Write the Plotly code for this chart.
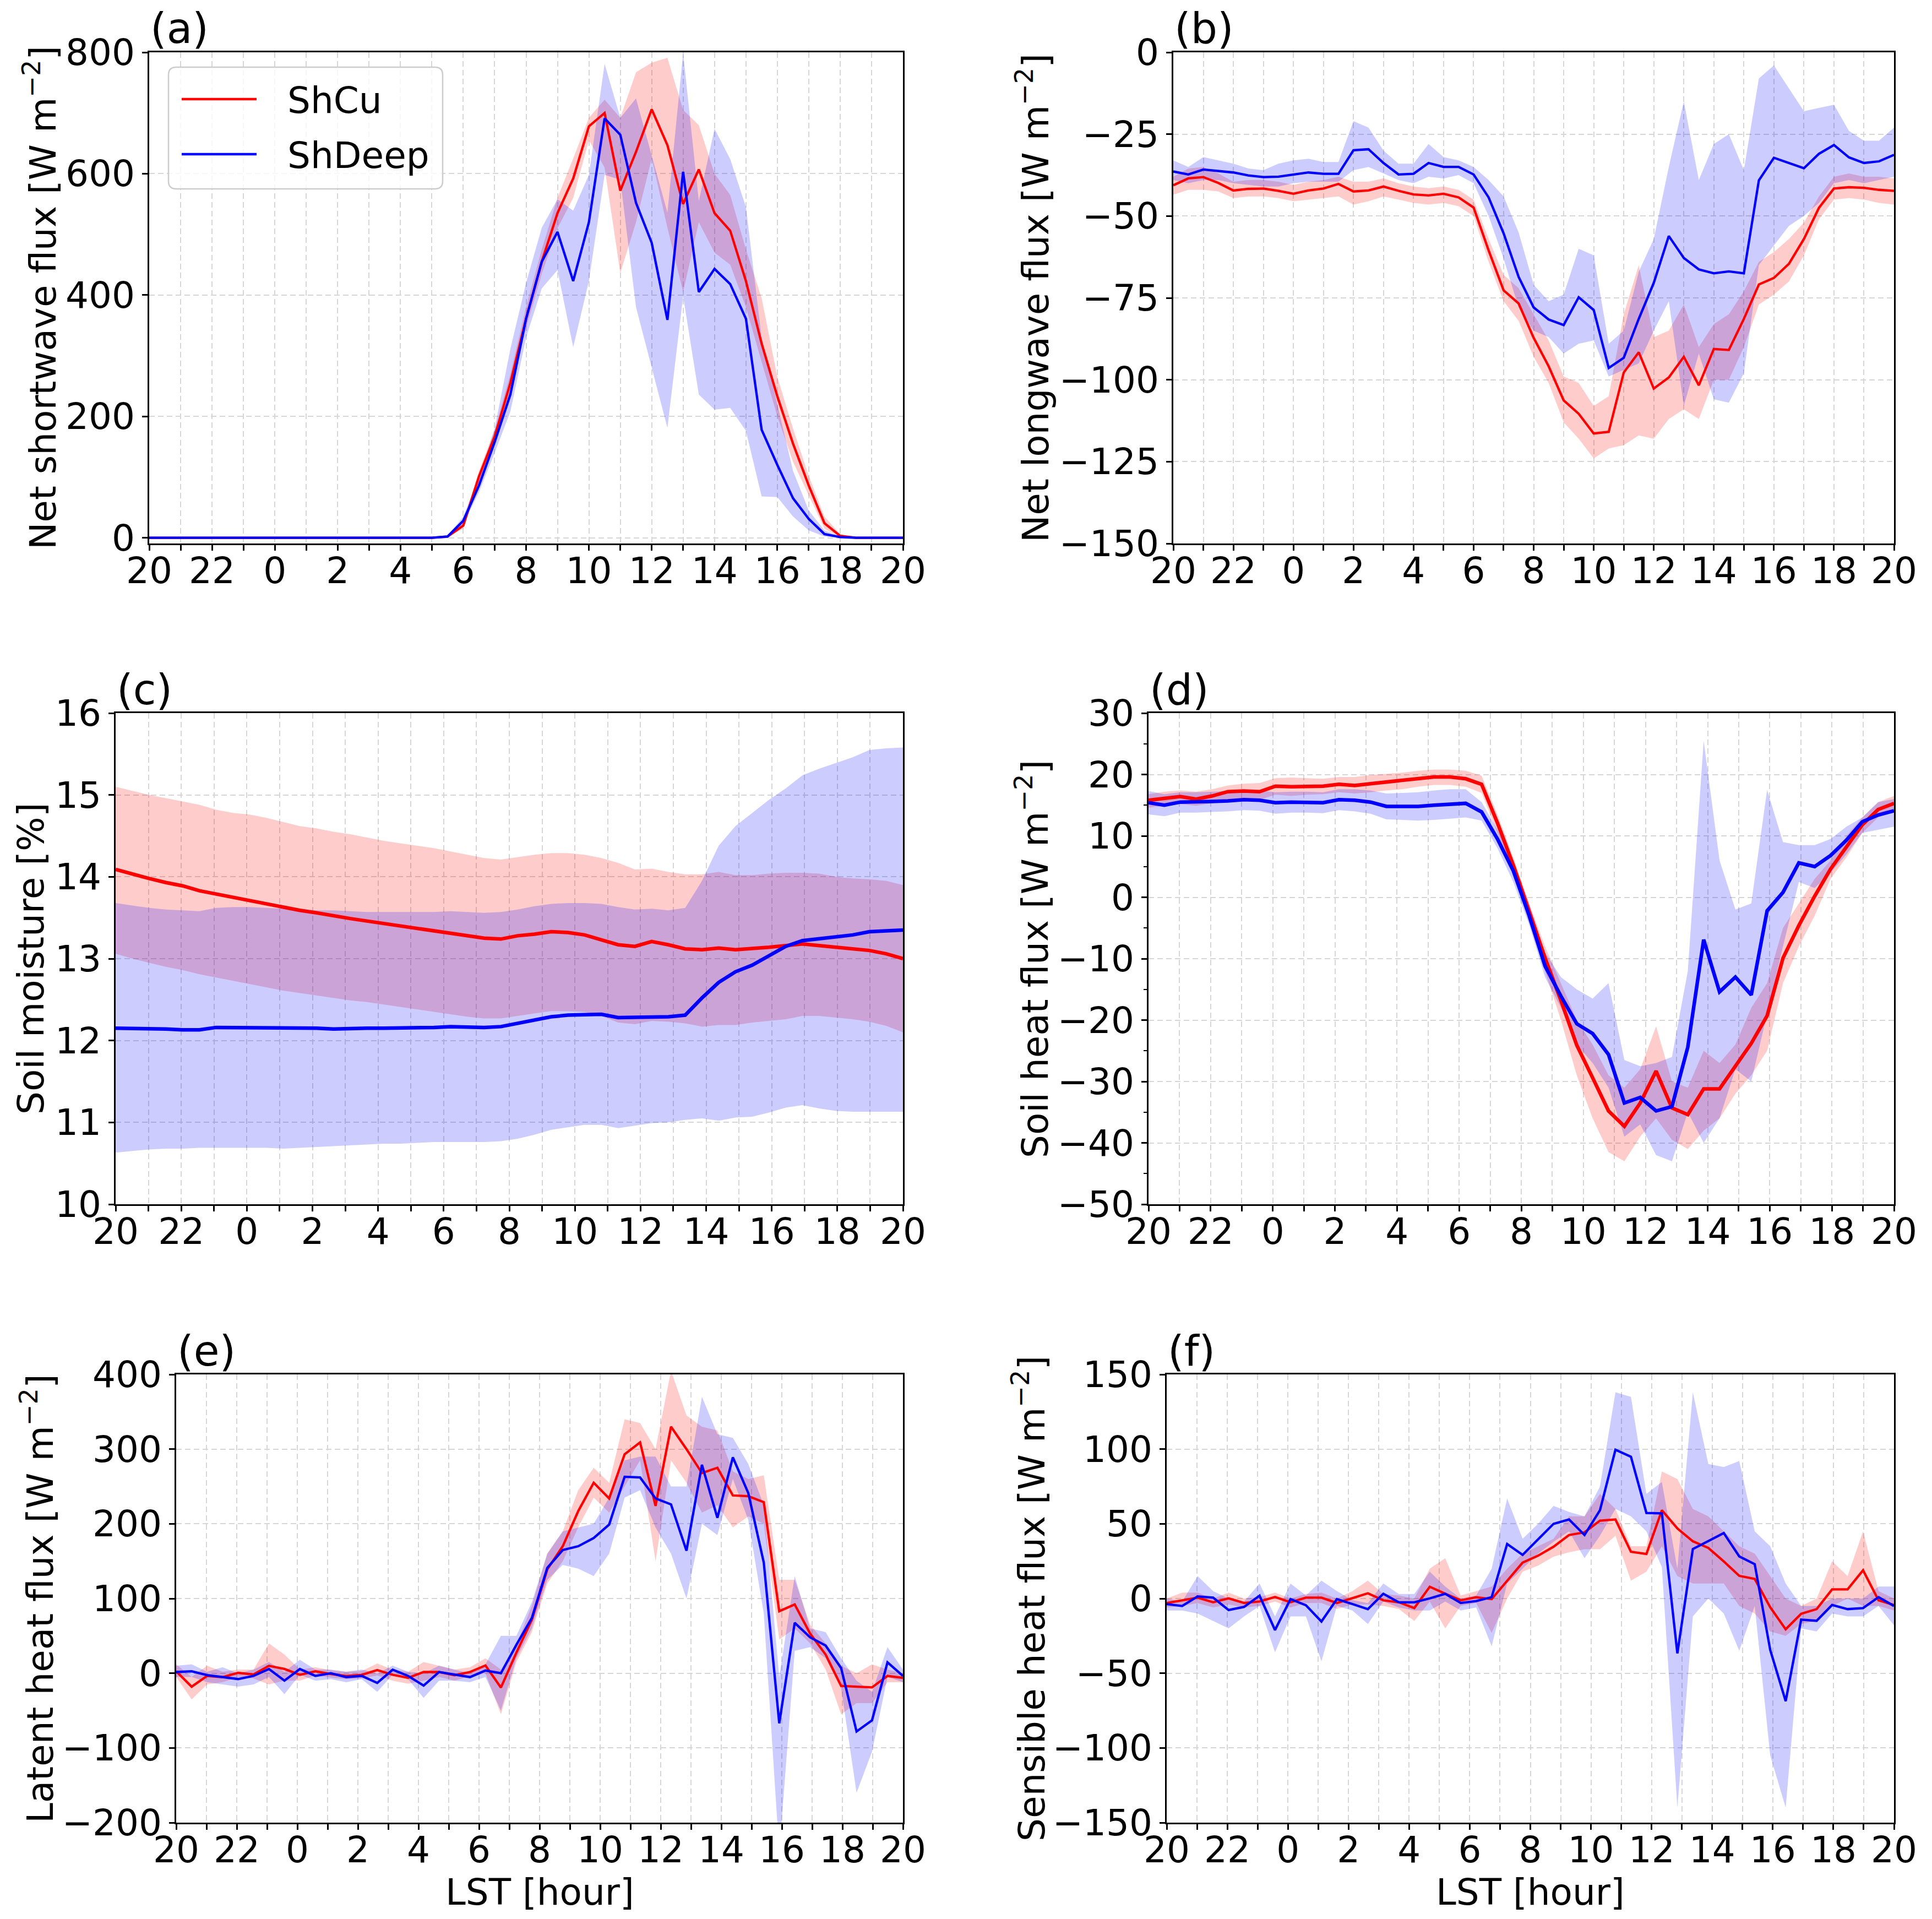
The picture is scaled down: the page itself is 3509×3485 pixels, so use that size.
import plotly.graph_objects as go
from plotly.subplots import make_subplots

W, H = 3509, 3485

# x positions, hours after 20 LST
hours_ab = [i * 0.5 for i in range(49)]
hours_cf = [i * 24 / 47 for i in range(48)]
tick_hours = list(range(0, 25, 2))
tick_text = [str((20 + h) % 24) for h in tick_hours]

# (a) net shortwave flux
sw_cu = [0] * 19 + [2, 20, 101, 167, 255, 361, 455, 535, 592, 678, 700, 572, 636, 706, 647, 550,
                    607, 535, 506, 423, 320, 233, 155, 86, 24, 3, 0, 0, 0, 0]
sw_cu_hi = [0] * 19 + [3, 25, 110, 178, 270, 380, 475, 560, 625, 692, 722, 692, 767, 783, 791, 705,
                       680, 600, 565, 475, 395, 265, 180, 102, 35, 6, 0, 0, 0, 0]
sw_cu_lo = [0] * 19 + [1, 15, 90, 155, 240, 345, 435, 510, 560, 655, 610, 436, 520, 625, 511, 405,
                       520, 470, 450, 380, 290, 200, 125, 70, 15, 1, 0, 0, 0, 0]
sw_dp = [0] * 19 + [2, 28, 86, 158, 236, 361, 455, 504, 423, 520, 691, 664, 552, 486, 359, 603,
                    405, 443, 418, 361, 178, 120, 65, 31, 6, 1, 0, 0, 0, 0]
sw_dp_hi = [0] * 19 + [3, 35, 100, 180, 311, 420, 511, 558, 539, 598, 781, 692, 724, 630, 536, 799,
                       555, 674, 624, 545, 330, 220, 110, 45, 12, 2, 0, 0, 0, 0]
sw_dp_lo = [0] * 19 + [1, 22, 75, 140, 208, 330, 411, 441, 314, 423, 598, 590, 380, 280, 181, 398,
                       236, 211, 214, 176, 68, 67, 35, 12, 2, 0, 0, 0, 0, 0]

# (b) net longwave flux
lw_cu = [-40.6, -38.5, -38.1, -39.9, -42.2, -41.7, -41.6, -42.3, -43.2, -42.2, -41.6, -40.2, -42.5,
         -42.2, -41.0, -42.3, -43.4, -43.7, -43.2, -44.3, -47.4, -60.5, -72.7, -76.7, -87.2, -95.9,
         -106.3, -110.4, -116.4, -115.9, -97.8, -91.6, -102.7, -99.3, -93.0, -101.7, -90.6, -90.9,
         -81.4, -70.9, -68.9, -64.6, -57.0, -47.5, -41.6, -41.2, -41.4, -42.0, -42.3]
lw_cu_hi = [-38, -35.5, -35, -37, -39.5, -39, -39, -39.5, -40.5, -39.5, -39, -38, -39.5, -39.5, -38.5,
            -40, -41, -41.5, -41, -42, -45, -57, -68, -72, -80, -88, -99, -101, -108, -105, -80, -65,
            -87, -85, -77, -90, -83, -80, -73, -64, -61, -57, -52, -44, -38, -37, -38, -38, -38.5]
lw_cu_lo = [-43.5, -42, -42, -42.5, -44.5, -44, -44, -44.5, -45.5, -45, -44.5, -44, -46.5, -45.5, -44,
            -45, -46, -46.5, -46, -47, -50, -64, -76, -82, -93, -101, -113, -118, -124, -121, -120,
            -117, -118, -112, -109, -112, -100, -100, -90, -77, -74, -70, -62, -51, -45, -44.5, -45,
            -46, -46.5]
lw_dp = [-36.4, -37.3, -35.8, -36.2, -36.7, -37.6, -38.1, -38.0, -37.3, -36.7, -37.1, -37.1, -29.9,
         -29.6, -33.8, -37.3, -37.1, -33.8, -35.0, -35.0, -37.3, -44.3, -55.3, -68.6, -77.9, -81.6,
         -83.3, -74.8, -78.7, -96.4, -93.3, -81.4, -70.4, -56.1, -62.8, -66.3, -67.5, -66.9, -67.5,
         -39.1, -32.2, -33.8, -35.4, -31.0, -28.3, -32.1, -33.8, -33.3, -31.3]
lw_dp_hi = [-33, -35, -32, -33, -34, -35.5, -36, -34, -33, -32.5, -33.5, -33.5, -21, -23, -30, -34, -34,
            -28, -32, -33, -35, -39, -44, -55, -71, -76, -74, -60, -62, -89, -85, -67, -57, -35, -15,
            -39, -28, -25, -36, -8, -4, -11, -18, -17, -16, -24, -27, -27, -23]
lw_dp_lo = [-39, -40, -39, -39, -40, -40.5, -41, -41, -40, -39.5, -39.5, -39.5, -36, -35, -37, -39, -40,
            -38, -38.5, -37.5, -40, -50, -63, -78, -85, -87, -92, -89, -88, -99, -97, -95, -85, -76,
            -108, -92, -106, -107, -98, -65, -59, -53, -50, -46, -40, -39, -40, -39, -38]

# (c) soil moisture
sm_cu = [14.09, 14.03, 13.98, 13.93, 13.89, 13.83, 13.79, 13.74, 13.71, 13.66, 13.62, 13.59, 13.56,
         13.52, 13.49, 13.46, 13.43, 13.40, 13.37, 13.34, 13.30, 13.28, 13.25, 13.24, 13.28, 13.30,
         13.33, 13.32, 13.29, 13.23, 13.17, 13.15, 13.21, 13.17, 13.12, 13.11, 13.13, 13.11, 13.12,
         13.14, 13.16, 13.18, 13.16, 13.14, 13.12, 13.10, 13.06, 13.00]
sm_cu_hi = [15.10, 15.05, 15.00, 14.96, 14.92, 14.88, 14.82, 14.78, 14.76, 14.72, 14.67, 14.62, 14.59,
            14.55, 14.52, 14.48, 14.44, 14.41, 14.38, 14.35, 14.31, 14.27, 14.23, 14.21, 14.24, 14.27,
            14.29, 14.29, 14.27, 14.23, 14.17, 14.09, 14.10, 14.06, 14.03, 14.03, 14.06, 14.02, 14.02,
            14.04, 14.05, 14.05, 14.04, 14.00, 13.98, 13.97, 13.95, 13.90]
sm_cu_lo = [13.06, 13.00, 12.95, 12.90, 12.86, 12.81, 12.77, 12.73, 12.69, 12.65, 12.61, 12.58, 12.55,
            12.52, 12.49, 12.47, 12.44, 12.41, 12.38, 12.35, 12.32, 12.29, 12.27, 12.27, 12.30, 12.33,
            12.36, 12.36, 12.35, 12.30, 12.22, 12.20, 12.24, 12.23, 12.21, 12.17, 12.19, 12.19, 12.22,
            12.24, 12.26, 12.30, 12.30, 12.28, 12.26, 12.23, 12.18, 12.10]
sm_dp = [12.15, 12.15, 12.14, 12.14, 12.13, 12.13, 12.16, 12.16, 12.16, 12.16, 12.15, 12.15, 12.15,
         12.14, 12.15, 12.15, 12.15, 12.15, 12.16, 12.16, 12.17, 12.16, 12.16, 12.17, 12.21, 12.25,
         12.29, 12.31, 12.32, 12.32, 12.28, 12.28, 12.29, 12.29, 12.31, 12.52, 12.71, 12.84, 12.92,
         13.03, 13.15, 13.22, 13.24, 13.26, 13.29, 13.33, 13.34, 13.35]
sm_dp_hi = [13.68, 13.65, 13.62, 13.60, 13.59, 13.58, 13.62, 13.63, 13.63, 13.62, 13.61, 13.60, 13.59,
            13.59, 13.58, 13.57, 13.57, 13.57, 13.57, 13.57, 13.58, 13.57, 13.56, 13.57, 13.60, 13.64,
            13.67, 13.68, 13.68, 13.67, 13.63, 13.60, 13.61, 13.59, 13.62, 13.95, 14.38, 14.62, 14.78,
            14.94, 15.08, 15.24, 15.32, 15.39, 15.46, 15.55, 15.57, 15.58]
sm_dp_lo = [10.63, 10.65, 10.67, 10.68, 10.68, 10.69, 10.69, 10.69, 10.69, 10.69, 10.68, 10.69, 10.70,
            10.71, 10.72, 10.73, 10.74, 10.74, 10.75, 10.76, 10.76, 10.76, 10.76, 10.77, 10.80, 10.85,
            10.91, 10.94, 10.97, 10.97, 10.93, 10.96, 10.99, 11.00, 11.03, 11.05, 11.02, 11.06, 11.07,
            11.12, 11.18, 11.21, 11.17, 11.14, 11.13, 11.13, 11.13, 11.13]

# (d) soil heat flux
gh_cu = [15.8, 16.1, 16.4, 16.0, 16.5, 17.2, 17.3, 17.2, 18.1, 18.0, 18.1, 18.1, 18.4, 18.2, 18.5, 18.8,
         19.0, 19.4, 19.6, 19.6, 19.3, 18.4, 12.1, 5.2, -2.4, -9.9, -16.8, -24.1, -29.4, -34.8, -37.3,
         -33.5, -28.3, -34.3, -35.4, -31.2, -31.2, -27.5, -23.8, -19.3, -9.9, -4.6, 0.2, 4.6, 8.3, 11.8,
         14.3, 15.3]
gh_cu_hi = [16.8, 17.2, 17.4, 17.2, 17.6, 18.2, 18.5, 18.6, 19.4, 19.5, 19.4, 19.3, 19.6, 19.6, 19.9,
            20.1, 20.3, 20.6, 20.8, 20.8, 20.6, 19.8, 13.5, 6.5, -1, -8, -14, -20, -24, -29, -31, -28,
            -21, -30, -31, -25, -27, -24, -18, -14, -5, -1, 3, 6, 10, 13, 15.5, 16.5]
gh_cu_lo = [14.6, 14.9, 15.2, 14.9, 15.3, 15.9, 16.0, 15.9, 16.7, 16.5, 16.7, 16.8, 17.1, 16.9, 17.1,
            17.4, 17.6, 18.0, 18.3, 18.3, 18.0, 17.0, 10.5, 3.8, -4, -12, -20, -29, -36, -41.5, -43,
            -39, -36, -39.5, -41, -38, -36, -32, -29, -25, -14, -8, -3, 3, 6.5, 10.5, 13, 14]
gh_dp = [15.4, 15.0, 15.5, 15.5, 15.6, 15.7, 15.9, 15.8, 15.4, 15.5, 15.5, 15.4, 15.9, 15.8, 15.5, 14.8,
         14.8, 14.8, 15.0, 15.2, 15.3, 13.9, 9.5, 4.3, -3.0, -11.2, -16.1, -20.6, -22.2, -25.6, -33.5,
         -32.6, -34.8, -34.1, -24.4, -6.9, -15.4, -13.0, -15.9, -2.2, 0.8, 5.6, 5.0, 6.8, 9.3, 12.3,
         13.4, 14.1]
gh_dp_hi = [17.3, 16.8, 17.1, 17.1, 17.2, 17.3, 17.5, 17.4, 17.1, 17.2, 17.2, 17.1, 17.6, 17.6, 17.4,
            16.9, 17.0, 17.1, 17.4, 17.6, 17.6, 15.5, 11, 6, -1, -9, -13, -15, -16.5, -14, -26.5,
            -27.5, -27, -26, -12, 25.5, 6, -2, -1, 17.5, 9, 8.5, 8.5, 9.5, 11.5, 13, 15.5, 16]
gh_dp_lo = [13.5, 13.2, 13.8, 13.8, 13.9, 14.0, 14.2, 14.1, 13.6, 13.8, 13.8, 13.7, 14.2, 14.0, 13.6,
            12.7, 12.6, 12.5, 12.6, 12.8, 13.0, 12.5, 8, 2.5, -4.5, -13, -18, -24, -27, -31, -39, -37,
            -42, -43, -35, -40, -36, -28, -30, -19, -8, 2.5, 1.5, 4, 7, 10.5, 11, 11.5]

# (e) latent heat flux
lh_cu = [2.6, -18, -3.6, -5.2, 0.5, -1.6, 9.9, 5.7, -2.1, 2.6, -1.0, -3.6, -2.1, 4.2, -2.1, -6.2, 1.6,
         1.6, -2.6, 1.6, 10.4, -19.2, 27.5, 71.7, 139, 170, 217, 255, 234, 293, 309, 224, 330, 300,
         268, 275, 238, 237, 229, 83, 92, 53, 25, -17, -18, -19, -3.6, -6.2]
lh_cu_hi = [12, -5, 10, 2, 5, 5, 40, 25, 5, 8, 4, 2, 3, 13, 5, 2, 15, 10, 5, 8, 20, 5, 38, 90, 160, 190,
            245, 275, 255, 340, 335, 300, 405, 345, 330, 325, 270, 260, 265, 125, 125, 65, 40, 10, 0,
            12, 5, 0]
lh_cu_lo = [-5, -35, -15, -12, -5, -7, -15, -10, -10, -3, -6, -8, -7, -3, -10, -14, -10, -5, -10, -4, 0,
            -55, 15, 55, 120, 150, 195, 235, 215, 250, 285, 150, 285, 255, 215, 225, 195, 210, 200, 45,
            60, 40, 5, -55, -40, -40, -12, -12]
lh_dp = [1.6, 2.6, -2.6, -5.2, -7.8, -3.6, 5.7, -9.9, 5.7, -3.6, 0, -5.2, -3.6, -13, 4.7, -3.6, -16.6,
         1.6, -2, -5.2, 3.6, 0, 38, 74, 141, 165, 170, 181, 199, 263, 262, 234, 226, 164, 279, 208, 289,
         241, 148, -67, 67.5, 48, 37, 7, -78, -63, 14.5, -3.6]
lh_dp_hi = [10, 12, 2, 8, 0, 5, 15, 2, 18, 5, 5, 2, 5, 0, 10, 2, 0, 10, 5, 0, 12, 50, 50, 95, 160, 190,
            195, 200, 235, 285, 290, 290, 250, 250, 370, 320, 315, 280, 225, -5, 130, 60, 55, 20, -10,
            -25, 35, 5]
lh_dp_lo = [-5, -5, -12, -15, -18, -15, -5, -28, -2, -10, -8, -12, -8, -25, -2, -8, -33, -10, -10, -12,
            -5, -50, 20, 60, 125, 145, 140, 130, 160, 235, 245, 195, 160, 100, 200, 185, 260, 205, 80,
            -240, 30, 35, 20, -20, -160, -105, -5, -12]

# (f) sensible heat flux
sh_cu = [-3, -1, 0.6, -2.5, 0.1, -3, -2, 1, -2.5, 0.6, 0.6, -3, 0.1, 3.5, -1.2, -2.5, -6.4, 7.9, 3.2,
         -1.2, 0.9, -0.4, 11.8, 24, 28.7, 34.7, 42.5, 44.3, 52.1, 52.9, 31.3, 29.8, 59.1, 46.9, 38.3,
         33.9, 24.8, 15.2, 13.1, -5.8, -20.6, -10.2, -7.1, 6.1, 6.1, 18.9, -1.2, -4.3]
sh_cu_hi = [0, 4, 4, 0, 4, 0, 1, 4, 0, 3, 4, 0, 5, 12, 3, 2, 0, 20, 27, 2, 5, 8, 20, 30, 35, 40, 55, 55,
            70, 60, 35, 35, 85, 80, 60, 55, 45, 35, 30, 15, 0, -5, 0, 25, 15, 45, 5, 0]
sh_cu_lo = [-6, -5, -3, -6, -4, -6, -5, -2, -6, -3, -3, -7, -4, -4, -5, -7, -15, -2, -20, -5, -3, -23, 0,
            18, 22, 28, 31, 33, 33, 42, 12, 18, 35, 15, 10, 10, 10, -5, -10, -22, -25, -17, -15, -5, 0,
            -5, -5, -8]
sh_dp = [-3.7, -5, 1.4, 0.6, -7.7, -5.6, 1.9, -21.1, -0.4, -4.5, -15.4, -0.4, -3.7, -7.1, 3.2, -2.5,
         -2.5, 0.1, 3.2, -3, -1.7, 0.9, 36.5, 29.2, 39.6, 50, 52.9, 42.5, 59.1, 99.6, 94.9, 57.3, 57,
         -36.7, 33.1, 38.6, 43.8, 28.2, 23, -34.4, -68.7, -14.1, -14.9, -4.3, -7.1, -6.4, 0.9, -5]
sh_dp_hi = [0, -2, 15, 5, 0, -2, 10, -12, 10, 2, 12, 5, -1, -3, 10, 3, 3, 18, 8, 0, 2, 20, 67, 40, 50,
            62, 58, 55, 75, 138, 135, 70, 78, 20, 138, 90, 88, 92, 45, 35, 10, -5, -5, 0, 0, 0, 8, 8]
sh_dp_lo = [-8, -8, -10, -15, -20, -12, -5, -36, -12, -12, -42, -5, -8, -17, -2, -6, -8, -8, -2, -8, -6,
            -32, 10, 20, 30, 38, 45, 27, 42, 60, 55, 45, 21, -140, -12, 0, -10, -35, -5, -105, -140,
            -20, -22, -10, -12, -12, -5, -18]

RED, BLUE = "#ff0000", "#0000ff"
RED_FILL, BLUE_FILL = "rgba(255,0,0,0.2)", "rgba(0,0,255,0.2)"
FONT = "DejaVu Sans"
GRID = dict(gridcolor="#d6d6d6", gridwidth=2, griddash="10px,6px")

# label, ylabel, x, series, y range, dtick, line width, axes box in pixels (left, top, right, bottom), ylabel centre x
panels = [
    ("(a)", "Net shortwave flux [W m<sup>\u22122</sup>]", hours_ab,
     (sw_cu, sw_cu_lo, sw_cu_hi, sw_dp, sw_dp_lo, sw_dp_hi), [-9.5, 800], 200, 4.3, (271, 95, 1640, 987), 73),
    ("(b)", "Net longwave flux [W m<sup>\u22122</sup>]", hours_ab,
     (lw_cu, lw_cu_lo, lw_cu_hi, lw_dp, lw_dp_lo, lw_dp_hi), [-150, 0], 25, 4.3, (2131, 95, 3440, 987), 1876),
    ("(c)", "Soil moisture [%]", hours_cf,
     (sm_cu, sm_cu_lo, sm_cu_hi, sm_dp, sm_dp_lo, sm_dp_hi), [10, 16], 1, 6.5, (210, 1295, 1640, 2187), 57),
    ("(d)", "Soil heat flux [W m<sup>\u22122</sup>]", hours_cf,
     (gh_cu, gh_cu_lo, gh_cu_hi, gh_dp, gh_dp_lo, gh_dp_hi), [-50, 30], 10, 6.5, (2086, 1295, 3440, 2187), 1876),
    ("(e)", "Latent heat flux [W m<sup>\u22122</sup>]", hours_cf,
     (lh_cu, lh_cu_lo, lh_cu_hi, lh_dp, lh_dp_lo, lh_dp_hi), [-200, 400], 100, 4.3, (320, 2496, 1640, 3310), 68),
    ("(f)", "Sensible heat flux [W m<sup>\u22122</sup>]", hours_cf,
     (sh_cu, sh_cu_lo, sh_cu_hi, sh_dp, sh_dp_lo, sh_dp_hi), [-150, 150], 50, 4.3, (2119, 2496, 3440, 3310), 1869),
]


def px_x(v):
    return v / W


def px_y(v):
    return 1 - v / H


fig = make_subplots(rows=3, cols=2)
annotations = []

for n, (tag, ylab, x, series, yr, dtick, lw, box, ylab_x) in enumerate(panels):
    row, col = n // 2 + 1, n % 2 + 1
    cu, cu_lo, cu_hi, dp, dp_lo, dp_hi = series
    left, top, right, bottom = box
    for hi, lo, fc in ((cu_hi, cu_lo, RED_FILL), (dp_hi, dp_lo, BLUE_FILL)):
        fig.add_trace(go.Scatter(x=x + x[::-1], y=hi + lo[::-1], fill="toself", fillcolor=fc,
                                 mode="lines", line=dict(width=0, color="rgba(0,0,0,0)"),
                                 hoverinfo="skip", showlegend=False), row=row, col=col)
    fig.add_trace(go.Scatter(x=x, y=cu, mode="lines", name="ShCu", line=dict(color=RED, width=lw),
                             showlegend=False), row=row, col=col)
    fig.add_trace(go.Scatter(x=x, y=dp, mode="lines", name="ShDeep", line=dict(color=BLUE, width=lw),
                             showlegend=False), row=row, col=col)

    axis_style = dict(showline=True, linecolor="black", linewidth=2.5, mirror=True,
                      ticks="outside", ticklen=10, tickwidth=2.5, tickcolor="black",
                      showgrid=True, zeroline=False, automargin=False,
                      tickfont=dict(size=66, family=FONT, color="black"), **GRID)
    fig.update_xaxes(range=[0, 24], tickmode="array", tickvals=tick_hours, ticktext=tick_text,
                     ticklabelstandoff=-20,
                     minor=dict(ticks="outside", ticklen=10, tickwidth=2.5, tickcolor="black",
                                dtick=1, tick0=0, showgrid=True, **GRID),
                     domain=[px_x(left), px_x(right)], **axis_style, row=row, col=col)
    yextra = {}
    if tag == "(d)":
        yextra["minor"] = dict(ticks="outside", ticklen=6, tickwidth=2, tickcolor="black",
                               dtick=5, tick0=0, showgrid=False)
    fig.update_yaxes(range=yr, dtick=dtick, tick0=0, domain=[px_y(bottom), px_y(top)],
                     **axis_style, **yextra, row=row, col=col)

    # panel label
    annotations.append(dict(text=tag, xref="paper", yref="paper", x=px_x(left), y=px_y(top - 43),
                            xanchor="left", yanchor="middle", showarrow=False,
                            font=dict(size=76, family=FONT, color="black")))
    # y axis title
    annotations.append(dict(text=ylab, xref="paper", yref="paper", x=px_x(ylab_x),
                            y=px_y((top + bottom) / 2), textangle=-90, xanchor="center",
                            yanchor="middle", showarrow=False,
                            font=dict(size=66, family=FONT, color="black")))
    if row == 3:
        annotations.append(dict(text="LST [hour]", xref="paper", yref="paper",
                                x=px_x((left + right) / 2), y=px_y(3436), xanchor="center",
                                yanchor="middle", showarrow=False,
                                font=dict(size=66, family=FONT, color="black")))


# legend drawn in the style of the original figure, inside panel (a)
def rounded_box(x0, y0, x1, y1, r):
    X, Y = px_x, px_y
    return (f"M {X(x0 + r)},{Y(y0)} L {X(x1 - r)},{Y(y0)} Q {X(x1)},{Y(y0)} {X(x1)},{Y(y0 + r)} "
            f"L {X(x1)},{Y(y1 - r)} Q {X(x1)},{Y(y1)} {X(x1 - r)},{Y(y1)} "
            f"L {X(x0 + r)},{Y(y1)} Q {X(x0)},{Y(y1)} {X(x0)},{Y(y1 - r)} "
            f"L {X(x0)},{Y(y0 + r)} Q {X(x0)},{Y(y0)} {X(x0 + r)},{Y(y0)} Z")


shapes = [dict(type="path", path=rounded_box(306, 122, 804, 343, 14), xref="paper", yref="paper",
               fillcolor="rgba(255,255,255,0.8)", line=dict(color="#cccccc", width=2.5), layer="above")]
for name, color, ypx in (("ShCu", RED, 180), ("ShDeep", BLUE, 280)):
    shapes.append(dict(type="line", xref="paper", yref="paper", x0=px_x(330), x1=px_x(466),
                       y0=px_y(ypx), y1=px_y(ypx), line=dict(color=color, width=4.3), layer="above"))
    annotations.append(dict(text=name, xref="paper", yref="paper", x=px_x(520), y=px_y(ypx + 3),
                            xanchor="left", yanchor="middle", showarrow=False,
                            font=dict(size=66, family=FONT, color="black")))

fig.update_layout(width=W, height=H, margin=dict(l=0, r=0, t=0, b=0, autoexpand=False),
                  paper_bgcolor="white", plot_bgcolor="white", showlegend=False,
                  font=dict(family=FONT, color="black"),
                  annotations=annotations, shapes=shapes)

# drop the page's default body margin so the figure sits at the window's corner
fig.write_html("out.html", config={"displayModeBar": False},
               post_script="document.body.style.margin = '0px';")
